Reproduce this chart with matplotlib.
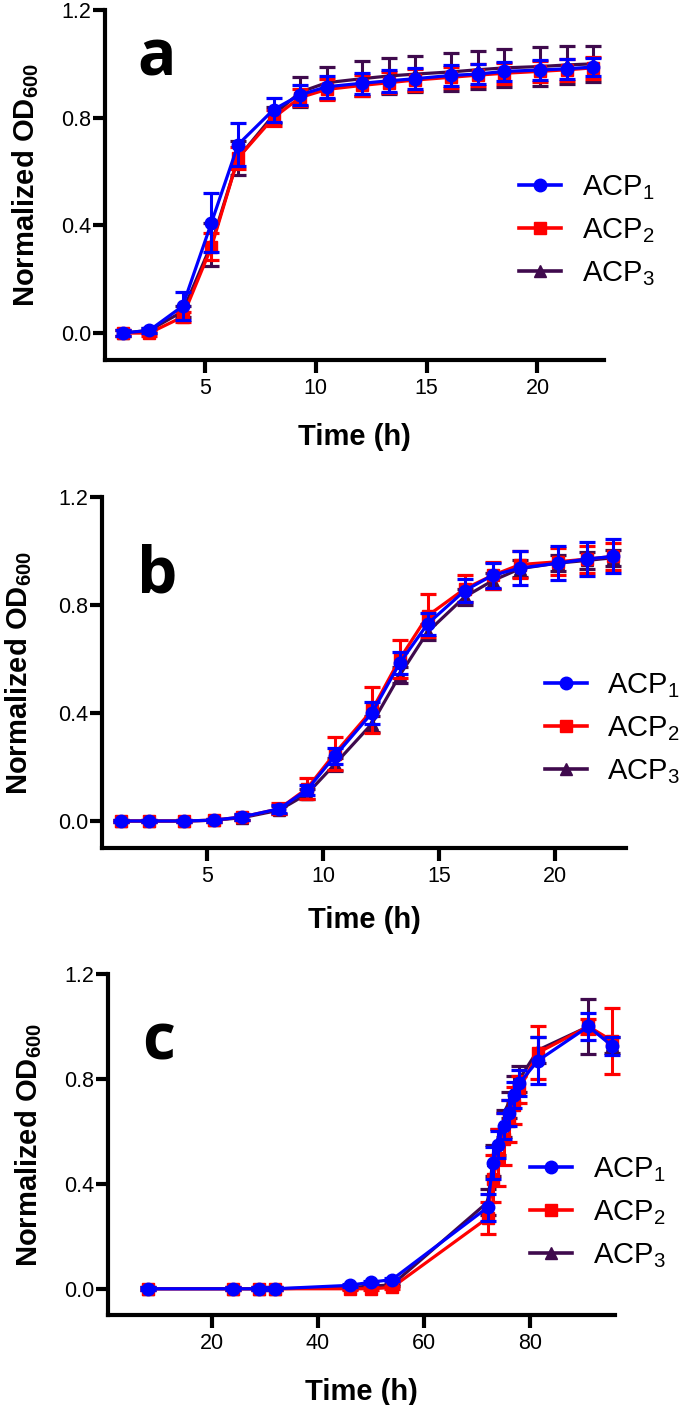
import matplotlib
matplotlib.use("Agg")
import matplotlib.pyplot as plt
from matplotlib.lines import Line2D

plt.rcParams['font.family'] = ['Liberation Sans', 'DejaVu Sans']
plt.rcParams['mathtext.fontset'] = 'custom'
plt.rcParams['mathtext.rm'] = 'Liberation Sans'
plt.rcParams['mathtext.bf'] = 'Liberation Sans:bold'
plt.rcParams['mathtext.it'] = 'Liberation Sans'

# ---------------- data ----------------
labels = ["ACP1", "ACP2", "ACP3"]
legend_labels = [r"ACP$_1$", r"ACP$_2$", r"ACP$_3$"]
colors = ["#0000FF", "#FF0000", "#3F0A4D"]
markers = ["o", "s", "^"]

time_ab = [1.3, 2.5, 4.0, 5.3, 6.5, 8.1, 9.3, 10.5, 12.1, 13.3, 14.5, 16.1, 17.3, 18.5, 20.1, 21.35, 22.5]

# panel a
a_acp1 = [0.0, 0.01, 0.10, 0.41, 0.70, 0.83, 0.885, 0.915, 0.928, 0.937, 0.945, 0.957, 0.962, 0.972, 0.977, 0.982, 0.988]
a_acp1_err = [0.01, 0.01, 0.053, 0.11, 0.08, 0.045, 0.036, 0.04, 0.039, 0.04, 0.04, 0.04, 0.038, 0.035, 0.038, 0.037, 0.033]
a_acp2 = [0.0, 0.0, 0.06, 0.32, 0.65, 0.80, 0.875, 0.905, 0.92, 0.93, 0.94, 0.95, 0.958, 0.965, 0.972, 0.978, 0.985]
a_acp2_err = [0.01, 0.01, 0.02, 0.05, 0.04, 0.03, 0.03, 0.04, 0.04, 0.04, 0.04, 0.04, 0.04, 0.04, 0.04, 0.04, 0.04]
a_acp3 = [0.0, 0.01, 0.08, 0.33, 0.65, 0.81, 0.895, 0.93, 0.945, 0.955, 0.962, 0.97, 0.978, 0.985, 0.99, 0.996, 1.0]
a_acp3_err = [0.01, 0.01, 0.02, 0.08, 0.063, 0.03, 0.055, 0.06, 0.065, 0.066, 0.068, 0.07, 0.07, 0.07, 0.072, 0.071, 0.068]

# panel b
b_acp1 = [0.0, 0.0, 0.0, 0.003, 0.015, 0.045, 0.115, 0.24, 0.40, 0.585, 0.73, 0.853, 0.91, 0.937, 0.955, 0.97, 0.98]
b_acp1_err = [0.005, 0.005, 0.005, 0.005, 0.01, 0.015, 0.02, 0.03, 0.04, 0.04, 0.04, 0.043, 0.047, 0.063, 0.063, 0.063, 0.063]
b_acp2 = [0.0, 0.0, 0.0, 0.003, 0.015, 0.045, 0.12, 0.25, 0.41, 0.60, 0.76, 0.86, 0.91, 0.95, 0.96, 0.97, 0.98]
b_acp2_err = [0.005, 0.005, 0.005, 0.005, 0.01, 0.02, 0.04, 0.06, 0.085, 0.07, 0.08, 0.05, 0.05, 0.05, 0.05, 0.05, 0.05]
b_acp3 = [0.0, 0.0, 0.0, 0.003, 0.012, 0.04, 0.10, 0.21, 0.36, 0.54, 0.70, 0.83, 0.89, 0.935, 0.955, 0.965, 0.975]
b_acp3_err = [0.005, 0.005, 0.005, 0.005, 0.01, 0.015, 0.02, 0.025, 0.03, 0.03, 0.03, 0.03, 0.03, 0.03, 0.03, 0.03, 0.03]

# panel c
time_c = [8, 24, 29, 32, 46, 50, 54, 72, 73, 74, 75, 76, 77, 78, 81.5, 91, 95.5]
c_acp1 = [0.0, 0.0, 0.0, 0.0, 0.013, 0.025, 0.035, 0.31, 0.48, 0.55, 0.62, 0.67, 0.74, 0.785, 0.87, 1.0, 0.925]
c_acp1_err = [0.005, 0.005, 0.005, 0.005, 0.005, 0.005, 0.005, 0.05, 0.06, 0.05, 0.05, 0.05, 0.05, 0.05, 0.09, 0.05, 0.035]
c_acp2 = [0.0, 0.0, 0.0, 0.0, 0.0, 0.0, 0.005, 0.27, 0.42, 0.50, 0.57, 0.64, 0.70, 0.76, 0.90, 1.0, 0.945]
c_acp2_err = [0.005, 0.005, 0.005, 0.005, 0.005, 0.005, 0.005, 0.06, 0.09, 0.11, 0.10, 0.08, 0.07, 0.05, 0.10, 0.03, 0.125]
c_acp3 = [0.0, 0.0, 0.0, 0.0, 0.005, 0.01, 0.015, 0.33, 0.49, 0.56, 0.63, 0.70, 0.76, 0.80, 0.91, 1.0, 0.93]
c_acp3_err = [0.005, 0.005, 0.005, 0.005, 0.005, 0.005, 0.005, 0.05, 0.06, 0.05, 0.05, 0.05, 0.05, 0.05, 0.05, 0.105, 0.03]

yticks = [0.0, 0.4, 0.8, 1.2]
xticks_ab = [5, 10, 15, 20]
xticks_c = [20, 40, 60, 80]

# ---------------- figure ----------------
W, H = 685, 1405
fig = plt.figure(figsize=(W / 100, H / 100), dpi=100)

def px_axes(left, right, top, bottom):
    return fig.add_axes([left / W, 1 - bottom / H, (right - left) / W, (bottom - top) / H])

panels = [
    dict(box=(105, 604, 10, 360), t=time_ab, xlim=(0.5, 23.0), xticks=xticks_ab,
         series=[(a_acp1, a_acp1_err), (a_acp2, a_acp2_err), (a_acp3, a_acp3_err)],
         letter="a", letter_pos=(0.064, 0.814), leg=(0.83, 0.37), ylab_x=-0.128, xlab_y=-0.18),
    dict(box=(102, 626, 497, 848), t=time_ab, xlim=(0.47, 23.05), xticks=xticks_ab,
         series=[(b_acp1, b_acp1_err), (b_acp2, b_acp2_err), (b_acp3, b_acp3_err)],
         letter="b", letter_pos=(0.067, 0.727), leg=(0.845, 0.34), ylab_x=-0.13, xlab_y=-0.165),
    dict(box=(108, 615, 974, 1315), t=time_c, xlim=(0.5, 96.0), xticks=xticks_c,
         series=[(c_acp1, c_acp1_err), (c_acp2, c_acp2_err), (c_acp3, c_acp3_err)],
         letter="c", letter_pos=(0.067, 0.748), leg=(0.832, 0.30), ylab_x=-0.126, xlab_y=-0.185),
]

zorders = [4, 3, 2]
for p in panels:
    ax = px_axes(*p["box"])
    handles = []
    for i, (vals, errs) in enumerate(p["series"]):
        ax.errorbar(p["t"], vals, yerr=errs, color=colors[i], marker=markers[i],
                    ms=9 if markers[i] != "s" else 8.5, mec=colors[i], mfc=colors[i],
                    lw=2.3, elinewidth=2.2, capsize=5.5, capthick=2.3, zorder=zorders[i],
                    clip_on=False)
        handles.append(Line2D([], [], color=colors[i], marker=markers[i], lw=2.6,
                              ms=9 if markers[i] != "s" else 8.5, mec=colors[i], mfc=colors[i]))
    ax.set_xlim(*p["xlim"])
    ax.set_ylim(-0.1, 1.2)
    ax.set_xticks(p["xticks"])
    ax.set_xticklabels([str(v) for v in p["xticks"]])
    ax.set_yticks(yticks)
    ax.set_yticklabels([f"{v:.1f}" for v in yticks])
    for s in ["top", "right"]:
        ax.spines[s].set_visible(False)
    for s in ["left", "bottom"]:
        ax.spines[s].set_linewidth(3)
        ax.spines[s].set_capstyle("projecting")
    ax.tick_params(axis="both", direction="out", length=9, width=3, labelsize=15.5, pad=1)
    ax.tick_params(axis="x", pad=4)
    ax.set_ylabel(r"Normalized OD$_{\mathbf{600}}$", fontsize=21, fontweight="bold")
    ax.yaxis.set_label_coords(p["ylab_x"], 0.5)
    ax.set_xlabel("Time (h)", fontsize=21, fontweight="bold")
    ax.xaxis.set_label_coords(0.5, p["xlab_y"])
    ax.text(p["letter_pos"][0], p["letter_pos"][1], p["letter"], transform=ax.transAxes,
            fontsize=46, fontweight="bold", family="Open Sans", ha="left", va="baseline")
    ax.legend(handles, legend_labels, loc="center left", bbox_to_anchor=p["leg"],
              frameon=False, fontsize=21, handlelength=1.45, handletextpad=0.7,
              labelspacing=0.5, borderpad=0, borderaxespad=0)

fig.savefig("out.png", dpi=100)
